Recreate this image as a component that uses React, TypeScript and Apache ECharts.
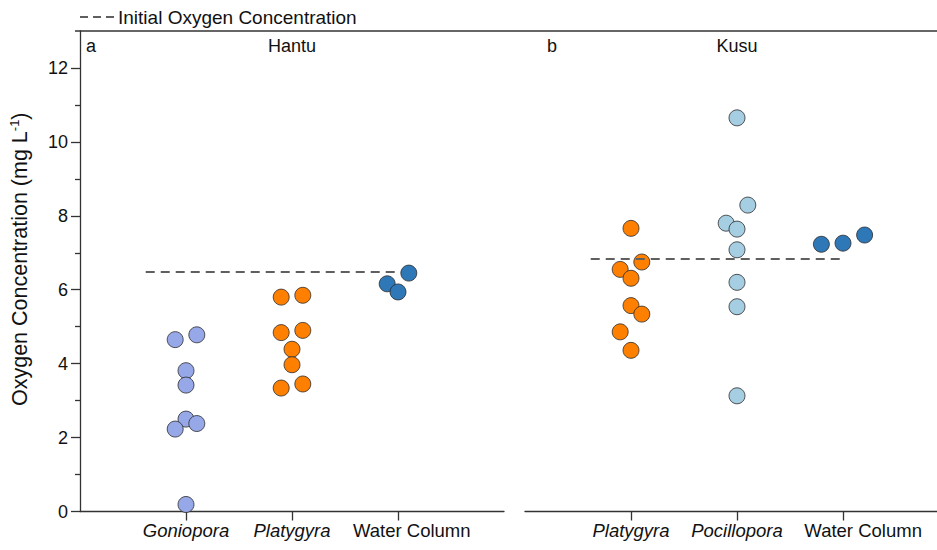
import React, { useEffect, useRef } from "react";
import * as echarts from "echarts";

// ---- Data ----
const hantuCategories = ["Goniopora", "Platygyra", "Water Column"];
const kusuCategories = ["Platygyra", "Pocillopora", "Water Column"];
const italicCategories = ["Goniopora", "Platygyra", "Pocillopora"];

const yTickValues = [0, 2, 4, 6, 8, 10, 12];
const yMinorTickValues = [1, 3, 5, 7, 9, 11];

const hantuGoniopora = [4.65, 4.78, 3.81, 3.42, 2.5, 2.23, 2.38, 0.19];
const hantuGonioporaJitter = [-1, 1, 0, 0, 0, -1, 1, 0];
const hantuPlatygyra = [5.8, 5.85, 4.84, 4.9, 4.39, 3.97, 3.34, 3.45];
const hantuPlatygyraJitter = [-1, 1, -1, 1, 0, 0, -1, 1];
const hantuWater = [6.16, 5.94, 6.45];
const hantuWaterJitter = [-1, 0, 1];

const kusuPlatygyra = [7.66, 6.75, 6.55, 6.31, 5.57, 5.34, 4.86, 4.36];
const kusuPlatygyraJitter = [0, 1, -1, 0, 0, 1, -1, 0];
const kusuPocillopora = [10.65, 8.29, 7.8, 7.64, 7.08, 6.2, 5.54, 3.13];
const kusuPocilloporaJitter = [0, 1, -1, 0, 0, 0, 0, 0];
const kusuWater = [7.23, 7.26, 7.48];
const kusuWaterJitter = [-2, 0, 2];

const initialHantu = 6.48;
const initialKusu = 6.83;
const initialLineStart = 0.62;
const initialLineEnd = 3.0;
const legendLabel = "Initial Oxygen Concentration";

// ---- Styles ----
const FONT = "'Liberation Sans', Arial, Helvetica, sans-serif";
const JITTER_STEP = 0.102;
const COLORS: Record<string, string> = {
  Goniopora: "#97a8e8",
  Platygyra: "#ff7f00",
  Pocillopora: "#a6cee3",
  "Water Column": "#2f78b7",
};
const AXIS_COLOR = "#333";
const DASH_COLOR = "#5f5f5f";

function points(values: number[], jitter: number[], catIdx: number) {
  return values.map((v, i) => [catIdx + 1 + jitter[i] * JITTER_STEP, v]);
}

function scatter(name: string, data: number[][], gi: number) {
  return {
    type: "scatter",
    name,
    xAxisIndex: gi,
    yAxisIndex: gi === 0 ? 0 : 2,
    data,
    symbol: "circle",
    symbolSize: 16,
    itemStyle: { color: COLORS[name], borderColor: "#2b2b2b", borderWidth: 0.8, opacity: 1 },
    z: 2,
    silent: true,
  };
}

function initLine(value: number, gi: number) {
  return {
    type: "line",
    name: legendLabel,
    xAxisIndex: gi,
    yAxisIndex: gi === 0 ? 0 : 2,
    data: [
      [initialLineStart, value],
      [initialLineEnd, value],
    ],
    symbol: "none",
    lineStyle: { color: DASH_COLOR, width: 2, type: [9, 6] },
    itemStyle: { color: DASH_COLOR },
    z: 5,
    silent: true,
  };
}

// label positions (the last label sits a little right of its tick in the reference)
function xAxis(gi: number, cats: string[], lastLabelShift: number) {
  const labelValues = [1, 2, 3 + lastLabelShift];
  return {
    type: "value",
    gridIndex: gi,
    min: 0,
    max: 4,
    interval: 1,
    splitLine: { show: false },
    axisLine: { show: true, onZero: false, lineStyle: { color: AXIS_COLOR, width: 1.3 } },
    axisTick: { show: true, customValues: [1, 2, 3], length: 9, lineStyle: { color: AXIS_COLOR, width: 1.3 } },
    axisLabel: {
      show: true,
      customValues: labelValues,
      margin: 9,
      hideOverlap: false,
      formatter: (v: number) => {
        const idx = labelValues.findIndex((lv) => Math.abs(lv - v) < 1e-6);
        const c = cats[idx];
        if (!c) return "";
        return italicCategories.includes(c) ? `{i|${c}}` : `{n|${c}}`;
      },
      rich: {
        i: { fontStyle: "italic", fontSize: 18.5, fontFamily: FONT, color: "#111" },
        n: { fontSize: 18.5, fontFamily: FONT, color: "#111" },
      },
    },
  };
}

export default function App() {
  const ref = useRef<HTMLDivElement>(null);

  useEffect(() => {
    if (!ref.current) return;
    const chart = echarts.init(ref.current, undefined, { renderer: "svg" });

    const option = {
      animation: false,
      backgroundColor: "#fff",
      textStyle: { fontFamily: FONT },
      grid: [
        { left: 80, top: 31, width: 424, height: 480.5, outerBoundsMode: "none", containLabel: false },
        { left: 525, top: 31, width: 424, height: 480.5, outerBoundsMode: "none", containLabel: false },
      ],
      xAxis: [xAxis(0, hantuCategories, 0.13), xAxis(1, kusuCategories, 0.19)],
      yAxis: [
        {
          type: "value",
          gridIndex: 0,
          position: "left",
          min: 0,
          max: 13,
          interval: 1,
          splitLine: { show: false },
          axisLine: { show: true, lineStyle: { color: AXIS_COLOR, width: 1.3 } },
          axisTick: { show: true, customValues: yTickValues, length: 9, lineStyle: { color: AXIS_COLOR, width: 1.3 } },
          axisLabel: { show: true, customValues: yTickValues, fontSize: 18, fontFamily: FONT, color: "#111", margin: 12 },
          name: "{a|Oxygen Concentration (mg L}{s|-1}{a|)}",
          nameLocation: "middle",
          nameGap: 47,
          nameRotate: 90,
          nameTextStyle: {
            fontFamily: FONT,
            color: "#111",
            padding: [0, 0, 0, 24],
            rich: {
              a: { fontSize: 21.5, fontFamily: FONT, color: "#111", lineHeight: 26 },
              s: { fontSize: 13, fontFamily: FONT, color: "#111", lineHeight: 26, padding: [0, 0, 12, 0] },
            },
          },
        },
        {
          type: "value",
          gridIndex: 0,
          position: "left",
          min: 0,
          max: 13,
          interval: 1,
          splitLine: { show: false },
          axisLine: { show: false },
          axisTick: { show: true, customValues: yMinorTickValues, length: 5, lineStyle: { color: AXIS_COLOR, width: 1.3 } },
          axisLabel: { show: false },
        },
        {
          type: "value",
          gridIndex: 1,
          min: 0,
          max: 13,
          show: false,
          splitLine: { show: false },
        },
      ],
      series: [
        scatter("Goniopora", points(hantuGoniopora, hantuGonioporaJitter, 0), 0),
        scatter("Platygyra", points(hantuPlatygyra, hantuPlatygyraJitter, 1), 0),
        scatter("Water Column", points(hantuWater, hantuWaterJitter, 2), 0),
        initLine(initialHantu, 0),
        scatter("Platygyra", points(kusuPlatygyra, kusuPlatygyraJitter, 0), 1),
        scatter("Pocillopora", points(kusuPocillopora, kusuPocilloporaJitter, 1), 1),
        scatter("Water Column", points(kusuWater, kusuWaterJitter, 2), 1),
        initLine(initialKusu, 1),
      ],
      graphic: [
        {
          type: "line",
          shape: { x1: 75, y1: 31, x2: 937, y2: 31 },
          style: { stroke: AXIS_COLOR, lineWidth: 1.3 },
          silent: true,
        },
        {
          type: "line",
          shape: { x1: 80, y1: 17, x2: 115, y2: 17 },
          style: { stroke: DASH_COLOR, lineWidth: 2, lineDash: [8, 5] },
          silent: true,
        },
        { type: "text", x: 118, y: 17, style: { text: legendLabel, fontSize: 19, fontFamily: FONT, fill: "#111", textVerticalAlign: "middle" } },
        { type: "text", left: 86, top: 37, style: { text: "a", fontSize: 18, fontFamily: FONT, fill: "#111" } },
        { type: "text", x: 292, y: 46, style: { text: "Hantu", fontSize: 18, fontFamily: FONT, fill: "#111", textAlign: "center", textVerticalAlign: "middle" } },
        { type: "text", left: 547, top: 37, style: { text: "b", fontSize: 18, fontFamily: FONT, fill: "#111" } },
        { type: "text", x: 737, y: 46, style: { text: "Kusu", fontSize: 18, fontFamily: FONT, fill: "#111", textAlign: "center", textVerticalAlign: "middle" } },
      ],
    };

    chart.setOption(option as any);
    return () => chart.dispose();
  }, []);

  return (
    <div
      ref={ref}
      style={{ position: "fixed", left: 0, top: 0, width: 937, height: 550, background: "#fff" }}
    />
  );
}
